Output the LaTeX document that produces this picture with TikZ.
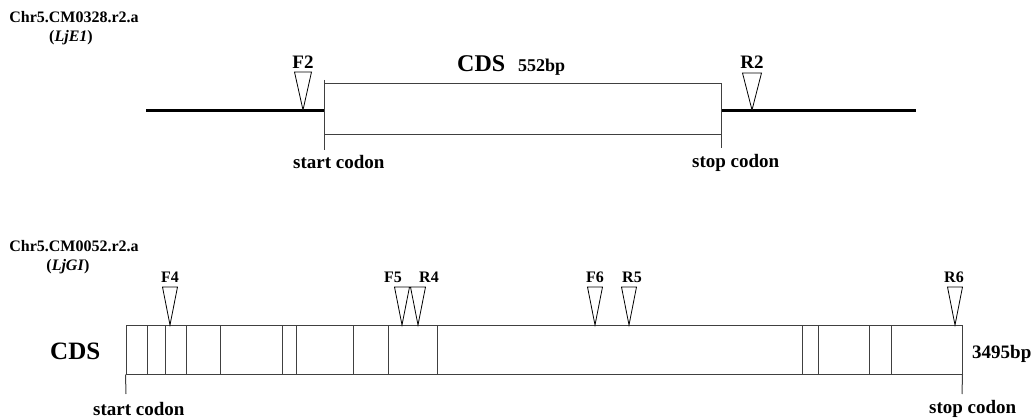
\documentclass[tikz,border=0pt]{standalone}
\usepackage{fontspec}
\setmainfont{Liberation Serif}
\tikzset{
  fs/.style={font=\fontsize{#1}{#1}\selectfont\bfseries},
  lbl/.style={inner sep=0pt, anchor=base},
  lblw/.style={inner sep=0pt, anchor=base west},
  boxline/.style={draw=black!75, line width=1pt},
  genome/.style={line width=3pt},
  primer/.style={draw=black, line width=0.8pt, fill=white, line join=miter},
}
\newcommand{\primertri}[5]{% x, ytop, yapex, halfwidth, name
  \coordinate (#5) at (#1,#3);
  \draw[primer] (#1-#4,#2) -- (#1+#4,#2) -- (#5) -- cycle;
}
\begin{document}
\begin{tikzpicture}[x=1pt,y=-1pt]
\useasboundingbox (0,0) rectangle (1036,420);
% ---------- top gene ----------
\node[lbl, fs=16] (t1) at (74,23) {Chr5.CM0328.r2.a};
\node[lbl, fs=16] (t1b) at (71,42) {(\textit{LjE1})};
\coordinate (g1l) at (146,110);
\coordinate (g1r) at (916,110);
\node[boxline, minimum width=397pt, minimum height=51pt, inner sep=0pt] (cds1) at (522.5,108.5) {};
\draw[genome] (g1l) -- (cds1.west |- g1l);
\draw[genome] (cds1.east |- g1r) -- (g1r);
\coordinate (s1) at (324,150);
\coordinate (e1) at (721,148);
\draw[boxline] (324,80) -- (s1);
\draw[boxline] (721,83) -- (e1);
\node[lblw, fs=24] (cdslab1) at (457,71) {CDS};
\node[lblw, fs=18] (len1) at (518,71) {552bp};
\primertri{303}{72}{110}{8.5}{pF2}
\primertri{752}{73}{110}{9.5}{pR2}
\node[lbl, fs=19] (lF2) at (303,69) {F2};
\node[lbl, fs=19] (lR2) at (752,69) {R2};
\node[lblw, fs=19] (start1) at (293,168) {start codon};
\node[lblw, fs=19] (stop1) at (692,167) {stop codon};
% ---------- bottom gene ----------
\node[lbl, fs=16] (t2) at (74,251) {Chr5.CM0052.r2.a};
\node[lbl, fs=16] (t2b) at (68,270) {(\textit{LjGI})};
\node[boxline, minimum width=836pt, minimum height=49pt, inner sep=0pt] (cds2) at (544,349.5) {};
\foreach \xx in {147,165,186,220,282,296,353,388,437,802,818,869,891}
  \draw[boxline] (\xx,325) -- (\xx,374);
\coordinate (s2) at (126,394);
\coordinate (e2) at (962,394);
\draw[boxline] (cds2.south west) -- (s2);
\draw[boxline] (cds2.south east) -- (e2);
\node[lblw, fs=25] (cdslab2) at (50,359) {CDS};
\node[lblw, fs=19] (len2) at (972,358) {3495bp};
\primertri{170}{287}{325}{7.5}{pF4}
\primertri{402}{287}{325}{7.5}{pF5}
\primertri{418}{287}{325}{7.5}{pR4}
\primertri{595}{287}{325}{7.5}{pF6}
\primertri{629}{287}{325}{7.5}{pR5}
\primertri{955}{287}{325}{7.5}{pR6}
\node[lbl, fs=16] (lF4) at (170,282) {F4};
\node[lbl, fs=16] (lF5) at (393,282) {F5};
\node[lbl, fs=16] (lR4) at (429,282) {R4};
\node[lbl, fs=16] (lF6) at (595,282) {F6};
\node[lbl, fs=16] (lR5) at (632,282) {R5};
\node[lbl, fs=16] (lR6) at (954,282) {R6};
\node[lblw, fs=19] (start2) at (93,415) {start codon};
\node[lblw, fs=19] (stop2) at (929,413) {stop codon};
\end{tikzpicture}
\end{document}
